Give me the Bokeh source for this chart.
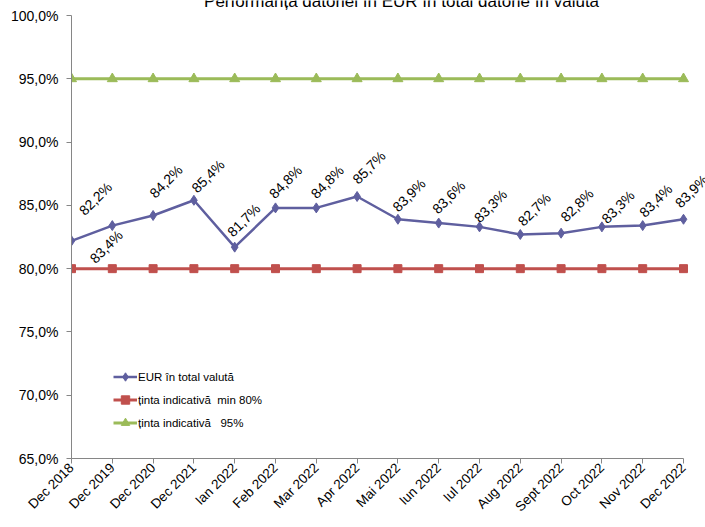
import math
from bokeh.plotting import figure
from bokeh.models import ColumnDataSource, FixedTicker, Legend, LegendItem, Label
from bokeh.core.properties import value
from bokeh.embed import file_html
from bokeh.resources import INLINE

# ---- data ----
categories = ["Dec 2018", "Dec 2019", "Dec 2020", "Dec 2021", "Ian 2022", "Feb 2022",
              "Mar 2022", "Apr 2022", "Mai 2022", "Iun 2022", "Iul 2022", "Aug 2022",
              "Sept 2022", "Oct 2022", "Nov 2022", "Dec 2022"]
eur_share = [82.2, 83.4, 84.2, 85.4, 81.7, 84.8, 84.8, 85.7, 83.9, 83.6, 83.3, 82.7,
             82.8, 83.3, 83.4, 83.9]
target_min = [80.0] * 16
target_max = [95.0] * 16
y_ticks = [65, 70, 75, 80, 85, 90, 95, 100]
y_tick_labels = ["65,0%", "70,0%", "75,0%", "80,0%", "85,0%", "90,0%", "95,0%", "100,0%"]
title_text = "Performanța datoriei în EUR în total datorie în valută"
series_names = ["EUR în total valută", "ținta indicativă\u00a0 min 80%", "ținta indicativă\u00a0\u00a0 95%"]

# label offsets (pixels, style only)
lab_dx = [24, -6, 13, 14, 9, 10, 11, 12, 11, 10, 11, 14, 16, 16, 13, 8]
lab_dy = [-42, 21, -34, -24, -27, -26, -26, -29, -24, -26, -21, -25, -28, -20, -25, -28]

FONT = "Liberation Sans"
C_EUR = "#5f5f9f"
C_MIN = "#c0504d"
C_MAX = "#9bbb59"

n = len(categories)
xs = list(range(n))
src = ColumnDataSource(dict(
    x=xs, eur=eur_share, lo=target_min, hi=target_max,
    lab=[("%.1f%%" % v).replace(".", ",") for v in eur_share],
    dx=lab_dx, dy=lab_dy,
))

# frame extends to the right and top edges so labels / title are not clipped;
# axis lines are bounded to the data extent.
x_end = (n - 1) * 634.0 / 612.0
y_end = 65 + 35 * 458.0 / 443.0
p = figure(width=705, height=527, output_backend="svg", toolbar_location=None,
           x_range=(0, x_end), y_range=(65, y_end),
           min_border_left=71, min_border_right=0, min_border_top=0, min_border_bottom=69)
p.outline_line_color = None
p.xgrid.visible = False
p.ygrid.visible = False
p.background_fill_color = "white"
p.border_fill_color = "white"

# axes
p.yaxis.ticker = FixedTicker(ticks=y_ticks)
p.yaxis.major_label_overrides = {t: l for t, l in zip(y_ticks, y_tick_labels)}
p.yaxis.bounds = (y_ticks[0], y_ticks[-1])
p.xaxis.ticker = FixedTicker(ticks=xs)
p.xaxis.major_label_overrides = {i: c for i, c in zip(xs, categories)}
p.xaxis.bounds = (0, n - 1)
p.xaxis.major_label_orientation = math.pi / 4
for ax in (p.xaxis, p.yaxis):
    ax.axis_line_color = "#868686"
    ax.major_tick_line_color = "#868686"
    ax.major_tick_in = 0
    ax.major_tick_out = 5
    ax.minor_tick_line_color = None
    ax.major_label_text_font = FONT
    ax.major_label_text_font_size = "14px"
    ax.major_label_text_color = "black"
p.xaxis.major_label_text_font_size = "13.5px"
p.yaxis.major_label_standoff = 8
p.xaxis.major_label_standoff = 2

# series
r_hi_l = p.line("x", "hi", source=src, line_color=C_MAX, line_width=3)
r_hi_m = p.scatter("x", "hi", source=src, marker="triangle", size=10,
                   fill_color=C_MAX, line_color=C_MAX)
r_lo_l = p.line("x", "lo", source=src, line_color=C_MIN, line_width=3)
r_lo_m = p.scatter("x", "lo", source=src, marker="square", size=8,
                   fill_color=C_MIN, line_color=C_MIN)
r_e_l = p.line("x", "eur", source=src, line_color=C_EUR, line_width=2.5)
r_e_m = p.scatter("x", "eur", source=src, marker="diamond", size=10,
                  fill_color=C_EUR, line_color=C_EUR)

p.text("x", "eur", text="lab", source=src, angle=math.pi / 4,
       x_offset="dx", y_offset="dy", text_align="center", text_baseline="middle",
       text_font=value(FONT), text_font_size="14px", text_color="black")

legend = Legend(items=[
    LegendItem(label=series_names[0], renderers=[r_e_l, r_e_m]),
    LegendItem(label=series_names[1], renderers=[r_lo_l, r_lo_m]),
    LegendItem(label=series_names[2], renderers=[r_hi_l, r_hi_m]),
], location=(42, 25), orientation="vertical")
legend.background_fill_alpha = 0
legend.border_line_color = None
legend.padding = 0
legend.margin = 0
legend.spacing = 2
legend.glyph_width = 24
legend.glyph_height = 21
legend.label_height = 21
legend.label_standoff = 1
legend.label_text_font = FONT
legend.label_text_font_size = "11.5px"
legend.label_text_color = "black"
p.add_layout(legend, "center")

title = Label(x=8.09, y=101.1, text=title_text, text_align="center",
              text_baseline="alphabetic", text_font=FONT, text_font_size="17px",
              text_color="black")
p.add_layout(title)

open("out.html", "w").write(file_html(p, INLINE))
